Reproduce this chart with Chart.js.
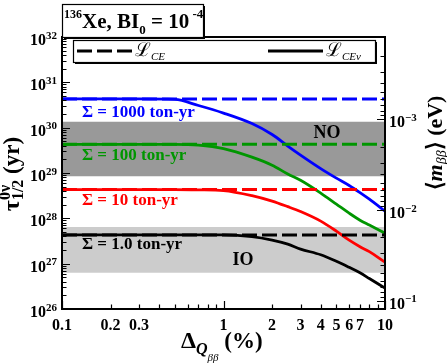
<!DOCTYPE html>
<html><head><meta charset="utf-8">
<script src="https://cdn.jsdelivr.net/npm/chart.js@4/dist/chart.umd.min.js"></script>
<style>html,body{margin:0;padding:0;background:#fff;overflow:hidden}#wrap{width:447px;height:364px;position:relative}</style>
</head><body><div id="wrap"><canvas id="c" width="447" height="364"></canvas></div>
<script>
// ---------- data ----------
const deltaQ = [0.1,0.2,0.3,0.5,0.7,1,1.5,2,2.5,3,4,5,6,7,8,10];
const exposureLabels = ['1000','100','10','1.0'];
const seriesColors = ['#0000ff','rgb(0,150,0)','#ff0000','#000000'];
const tauCE = [4.3e30, 4.3e29, 4.3e28, 4.3e27];
const tauCEnu1000 = [4.3e30,4.3e30,4.3e30,4.2e30,3.08e30,2.1e30,1.23e30,7.05e29,3.93e29,2.48e29,1.25e29,7.7e28,5.3e28,3.7e28,2.65e28,1.44e28];
const tauCEnu100  = [4.3e29,4.3e29,4.3e29,4.3e29,4.13e29,3.46e29,2.24e29,1.49e29,9.5e28,6.9e28,3.6e28,2.06e28,1.3e28,9.1e27,7.1e27,4.7e27];
const tauCEnu10   = [4.3e28,4.3e28,4.3e28,4.3e28,4.25e28,4.1e28,3.17e28,2.4e28,1.81e28,1.41e28,8.67e27,5.21e27,3.3e27,2.37e27,1.84e27,1.08e27];
const tauCEnu1    = [4.3e27,4.3e27,4.3e27,4.3e27,4.3e27,4.3e27,3.94e27,3.3e27,2.69e27,2.1e27,1.57e27,1.13e27,8.3e26,6.3e26,4.7e26,2.88e26];
const bandNO = [8.5e28, 1.35e30];
const bandIO = [6.3e26, 6.4e27];
const xTickLabels = ['0.1','0.2','0.3','1','2','3','4','5','6','7','10'];
const yExponents = [26,27,28,29,30,31,32];
const mExponents = [-3,-2,-1];
const xRange = [0.1, 10];
const yRange = [1e26, 1e32];
const mRange = [1.23e-4, 0.1234];
// annotation anchors in data space: [x, tau]
const sigmaLabelPos = [[0.133,1.71e30],[0.133,1.93e29],[0.133,1.95e28],[0.133,2.09e27]];
const noLabelPos = [4.37, 5.9e29];
const ioLabelPos = [1.32, 9.3e26];

// ---------- build datasets ----------
const SERIF = "'Liberation Serif','Times New Roman',serif";
const B = n => `bold ${n}px ${SERIF}`;
const BI = n => `italic bold ${n}px ${SERIF}`;
const I = n => `italic ${n}px ${SERIF}`;

const solidSeries = [tauCEnu1000, tauCEnu100, tauCEnu10, tauCEnu1];
const datasets = [];
function band(r, color){
  return {data:[{x:xRange[0],y:r[1]},{x:xRange[1],y:r[1]}], borderWidth:0, borderColor:'rgba(0,0,0,0)',
    backgroundColor:color, pointRadius:0, fill:{value:r[0]}, order:10};
}
datasets.push(band(bandNO,'#999999'));
datasets.push(band(bandIO,'#cccccc'));
solidSeries.forEach((s,i)=>{
  datasets.push({data: deltaQ.map((x,j)=>({x, y:s[j]})), borderColor:seriesColors[i], borderWidth:2.8,
    pointRadius:0, fill:false, cubicInterpolationMode:'monotone', order:2});
  datasets.push({data: [{x:xRange[0],y:tauCE[i]},{x:xRange[1],y:tauCE[i]}], borderColor:seriesColors[i], borderWidth:3,
    borderDash:[15,5], pointRadius:0, fill:false, order:1});
});

// ---------- helpers ----------
function rich(ctx, x, y, parts, align){
  let w = 0;
  parts.forEach(p=>{ ctx.font = p[1]; p.w = ctx.measureText(p[0]).width; w += p.w + (p[3]||0); });
  let cx = align==='right' ? x - w : align==='center' ? x - w/2 : x;
  parts.forEach(p=>{ ctx.font = p[1]; ctx.fillText(p[0], cx, y + (p[2]||0)); cx += p.w + (p[3]||0); });
  return w;
}
function logTicks(lo, hi){
  const out = [];
  for (let e = Math.floor(Math.log10(lo))-1; e <= Math.ceil(Math.log10(hi)); e++){
    for (let k=1;k<10;k++){
      const v = k*Math.pow(10,e);
      if (v >= lo*0.9999 && v <= hi*1.0001) out.push({v, major:k===1});
    }
  }
  return out;
}
function boxShadow(ctx, x, y, w, h){
  ctx.fillStyle = '#fff'; ctx.fillRect(x, y, w, h);
  ctx.fillStyle = '#000';
  ctx.fillRect(x+2, y+h, w, 2);
  ctx.fillRect(x+w, y+2, 2, h);
  ctx.strokeStyle = '#000'; ctx.lineWidth = 1.2; ctx.setLineDash([]);
  ctx.strokeRect(x+0.5, y+0.5, w, h);
}

const deco = {
  id:'deco',
  afterDatasetsDraw(chart){
    const {ctx, chartArea:a, scales} = chart;
    const xs = scales.x, ys = scales.y, ms = scales.y2;
    ctx.save();
    ctx.textAlign = 'left'; ctx.textBaseline = 'alphabetic';
    // annotations
    sigmaLabelPos.forEach((p,i)=>{
      ctx.fillStyle = seriesColors[i];
      rich(ctx, xs.getPixelForValue(p[0]), ys.getPixelForValue(p[1]), [['\u03A3 = '+exposureLabels[i]+' ton-yr', B(17)]], 'left');
    });
    ctx.fillStyle = '#000';
    rich(ctx, xs.getPixelForValue(noLabelPos[0]), ys.getPixelForValue(noLabelPos[1]), [['NO', B(18)]], 'center');
    rich(ctx, xs.getPixelForValue(ioLabelPos[0]), ys.getPixelForValue(ioLabelPos[1]), [['IO', B(18)]], 'center');

    // frame
    ctx.strokeStyle = '#000'; ctx.lineWidth = 2; ctx.setLineDash([]);
    ctx.strokeRect(a.left, a.top, a.right-a.left, a.bottom-a.top);
    ctx.lineWidth = 1.2;
    ctx.beginPath();
    logTicks(xRange[0], xRange[1]).forEach(t=>{
      const px = Math.round(xs.getPixelForValue(t.v))+0.5, L = t.major?8:4.5;
      ctx.moveTo(px, a.bottom); ctx.lineTo(px, a.bottom-L);
    });
    logTicks(yRange[0], yRange[1]).forEach(t=>{
      const py = Math.round(ys.getPixelForValue(t.v))+0.5, L = t.major?8:4.5;
      ctx.moveTo(a.left, py); ctx.lineTo(a.left+L, py);
    });
    logTicks(mRange[0], mRange[1]).forEach(t=>{
      const py = Math.round(ms.getPixelForValue(t.v))+0.5, L = t.major?8:4.5;
      ctx.moveTo(a.right, py); ctx.lineTo(a.right-L, py);
    });
    ctx.stroke();

    // tick labels
    ctx.fillStyle = '#000';
    xTickLabels.forEach(l=>{
      rich(ctx, xs.getPixelForValue(parseFloat(l)), a.bottom+21, [[l, B(16)]], 'center');
    });
    yExponents.forEach(e=>{
      const py = ys.getPixelForValue(Math.pow(10,e));
      rich(ctx, a.left-5, py+8, [['10', B(16)], [String(e), B(11), -6.5]], 'right');
    });
    mExponents.forEach(e=>{
      const py = ms.getPixelForValue(Math.pow(10,e));
      rich(ctx, a.right+4, py+8, [['10', B(16)], ['\u2212'+String(-e), B(11), -6.5]], 'left');
    });

    // legend box
    boxShadow(ctx, 73, 40, 302, 22);
    ctx.strokeStyle = '#000'; ctx.lineWidth = 3;
    ctx.setLineDash([15,5]);
    ctx.beginPath(); ctx.moveTo(77, 51); ctx.lineTo(132, 51); ctx.stroke();
    ctx.setLineDash([]);
    ctx.beginPath(); ctx.moveTo(268, 51); ctx.lineTo(323, 51); ctx.stroke();
    ctx.fillStyle = '#000';
    rich(ctx, 135, 56, [['\u2112', `19px 'DejaVu Serif',${SERIF}`], ['CE', I(11), 4]], 'left');
    rich(ctx, 326, 56, [['\u2112', `19px 'DejaVu Serif',${SERIF}`], ['CE\u03BD', I(11), 4]], 'left');

    // title box
    boxShadow(ctx, 62, 4, 141, 33);
    ctx.fillStyle = '#000';
    rich(ctx, 64, 28, [['136', B(12), -10], ['Xe, BI', B(21)], ['0', B(13), 6], [' = 10', B(21)], [' -4', B(13), -10]], 'left');

    // axis titles
    ctx.save();
    ctx.translate(19, 174); ctx.rotate(-Math.PI/2);
    ctx.font = B(24); const wt = ctx.measureText('\u03C4').width;
    ctx.font = B(16); const ws = Math.max(ctx.measureText('0\u03BD').width, ctx.measureText('1/2').width);
    ctx.font = B(23); const wy = ctx.measureText(' (yr)').width;
    let u = -(wt+ws+wy)/2;
    ctx.font = B(24); ctx.fillText('\u03C4', u, 0); u += wt;
    ctx.font = B(16); ctx.fillText('0\u03BD', u, -9); ctx.fillText('1/2', u, 4); u += ws;
    ctx.font = B(23); ctx.fillText(' (yr)', u, 0);
    ctx.restore();

    ctx.save();
    ctx.translate(442, 143); ctx.rotate(-Math.PI/2);
    ctx.font = B(22); const w1 = ctx.measureText('\u27E8').width;
    ctx.font = BI(22); const w2 = ctx.measureText('m').width;
    ctx.font = I(14); const w3 = ctx.measureText('\u03B2\u03B2').width;
    ctx.font = B(22); const w4 = ctx.measureText('\u27E9 (eV)').width;
    u = -(w1+w2+w3+w4)/2;
    ctx.font = B(22); ctx.fillText('\u27E8', u, 0); u += w1;
    ctx.font = BI(22); ctx.fillText('m', u, 0); u += w2;
    ctx.font = I(14); ctx.fillText('\u03B2\u03B2', u, 4); u += w3;
    ctx.font = B(22); ctx.fillText('\u27E9 (eV)', u, 0);
    ctx.restore();

    rich(ctx, 181, 348, [['\u0394', B(24)], ['Q', BI(16), 6], ['\u03B2\u03B2', I(11), 13], [' (%)', B(23)]], 'left');
    ctx.restore();
  }
};

new Chart(document.getElementById('c'), {
  type:'line',
  data:{datasets},
  options:{
    responsive:false, animation:false, parsing:true,
    layout:{padding:{top:37,left:0,right:0,bottom:0}},
    plugins:{legend:{display:false}, tooltip:{enabled:false}},
    scales:{
      x:{type:'logarithmic', min:xRange[0], max:xRange[1], position:'bottom', ticks:{display:false}, grid:{display:false}, border:{display:false}, afterFit(s){ s.height = 55; }},
      y:{type:'logarithmic', min:yRange[0], max:yRange[1], position:'left', ticks:{display:false}, grid:{display:false}, border:{display:false}, afterFit(s){ s.width = 62; }},
      y2:{type:'logarithmic', min:mRange[0], max:mRange[1], reverse:true, position:'right', ticks:{display:false}, grid:{display:false}, border:{display:false}, afterFit(s){ s.width = 62; }}
    }
  },
  plugins:[deco]
});
</script></body></html>
